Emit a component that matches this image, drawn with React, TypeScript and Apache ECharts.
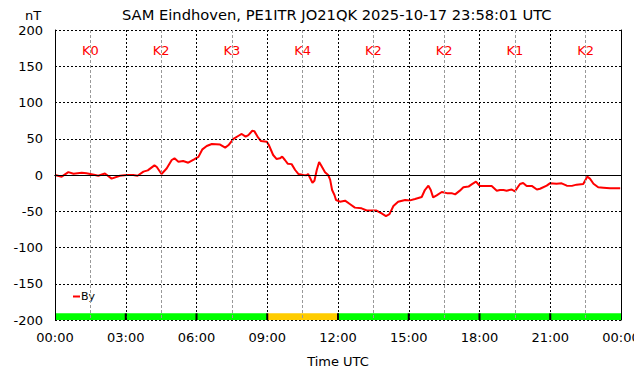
import React, { useEffect, useRef } from "react";
import * as echarts from "echarts";

const titleText = "SAM Eindhoven, PE1ITR JO21QK 2025-10-17 23:58:01 UTC";

const times = [
  "00:00", "00:17", "00:34", "00:47", "01:08", "01:20", "01:42", "01:50", "02:07", "02:24",
  "02:45", "03:02", "03:19", "03:30", "03:45", "03:56", "04:13", "04:19", "04:31", "04:44",
  "04:57", "05:04", "05:14", "05:26", "05:39", "05:54", "06:05", "06:15", "06:26", "06:39",
  "07:00", "07:13", "07:21", "07:34", "07:46", "07:55", "08:05", "08:12", "08:22", "08:27",
  "08:37", "08:44", "08:59", "09:04", "09:15", "09:24", "09:32", "09:38", "09:45", "09:52",
  "10:02", "10:11", "10:19", "10:32", "10:40", "10:44", "10:55", "11:00", "11:06", "11:12",
  "11:18", "11:27", "11:35", "11:40", "11:45", "11:51", "11:55", "12:05", "12:18", "12:30",
  "12:43", "13:00", "13:13", "13:26", "13:38", "13:51", "14:02", "14:11", "14:21", "14:33",
  "14:51", "15:03", "15:16", "15:33", "15:41", "15:50", "15:56", "16:02", "16:11", "16:24",
  "16:37", "16:49", "16:58", "17:10", "17:19", "17:32", "17:40", "17:51", "18:01", "18:18",
  "18:31", "18:44", "18:52", "19:01", "19:09", "19:22", "19:30", "19:43", "19:51", "20:00",
  "20:13", "20:26", "20:34", "20:51", "20:59", "21:16", "21:29", "21:42", "21:55", "22:07",
  "22:24", "22:34", "22:41", "22:50", "23:02", "23:15", "23:32", "23:58"
];

const byValues = [
  0, -2.3, 4, 1.8, 3, 2.5, 0, -1, 2, -5,
  -1, 0, 0, -1, 4.6, 6.4, 13.3, 11, 1.4, 9,
  20.7, 23, 18.4, 19.3, 17, 21.6, 25, 35.4, 40, 42.8,
  42, 37.7, 41, 49.7, 53.8, 56.6, 52.9, 55, 61, 60.5,
  51.5, 46.9, 46, 41.4, 27.6, 22, 23, 25.3, 20.7, 15.6,
  15, 6.9, 1.4, 0, -0.5, 1.4, -10.6, -8, 6.9, 18,
  12.4, 3.7, 0, -6.4, -20.7, -27.6, -34.5, -36.8, -35.4, -40,
  -45, -46, -49, -49, -49, -53, -56.6, -54, -42.8, -36.8,
  -34.5, -35, -33, -30.3, -20.7, -14.7, -20.7, -30.8, -28, -23.4,
  -25, -25, -26.7, -21.6, -17, -16, -12.9, -9.2, -15.2, -15.2,
  -15.2, -21.6, -20.7, -20.7, -21.6, -20, -22.5, -12.4, -11, -15.2,
  -15, -20, -19, -14.7, -11.5, -12, -11.5, -14.7, -15, -13.3,
  -12.4, -2.3, -5, -12, -17, -17.5, -18.4, -18.4
];

const kIndex = [0, 2, 3, 4, 2, 2, 1, 2];

const tickHours = [0, 3, 6, 9, 12, 15, 18, 21, 24];
const tickLabels = ["00:00", "03:00", "06:00", "09:00", "12:00", "15:00", "18:00", "21:00", "00:00"];

const FONT = "DejaVu Sans";

function toHours(t: string): number {
  const [h, m] = t.split(":").map(Number);
  return h + m / 60;
}

export default function App() {
  const ref = useRef<HTMLDivElement>(null);

  useEffect(() => {
    if (!ref.current) return;
    const chart = echarts.init(ref.current, null, { renderer: "svg" });

    const lineData = times.map((t, i) => [toHours(t), byValues[i]]);
    const kData = kIndex.map((k, i) => [i * 3, i * 3 + 3, k]);
    const tickData = tickHours.map((h, i) => [h, i]);

    const option: any = {
      animation: false,
      backgroundColor: "#ffffff",
      textStyle: { fontFamily: FONT },
      title: {
        text: titleText,
        left: 117,
        top: 2,
        textStyle: { fontFamily: FONT, fontSize: 14.7, fontWeight: "normal", color: "#000" },
      },
      legend: {
        left: 68,
        top: 286,
        icon: "rect",
        itemWidth: 7,
        itemHeight: 2,
        itemGap: 0,
        textStyle: { fontFamily: FONT, fontSize: 11, color: "#000", padding: [0, 0, 0, -4] },
        data: ["By"],
      },
      graphic: [
        {
          type: "text",
          left: 25,
          top: 9,
          style: { text: "nT", font: `13px "${FONT}"`, fill: "#000" },
        },
      ],
      grid: { left: 55, right: 21, top: 30, bottom: 56, containLabel: false, outerBoundsMode: "none" },
      xAxis: [
        {
          type: "value",
          min: 0,
          max: 24,
          interval: 3,
          z: 10,
          name: "Time UTC",
          nameLocation: "middle",
          nameGap: 35,
          nameTextStyle: { fontFamily: FONT, fontSize: 13, color: "#000" },
          axisLine: { show: true, lineStyle: { color: "#000", width: 1, type: [2, 2] } },
          axisTick: { show: false },
          axisLabel: { show: false },
          splitLine: { show: true, lineStyle: { color: "#000", width: 1, type: [2, 2] } },
          minorTick: { show: false, splitNumber: 2 },
          minorSplitLine: { show: true, lineStyle: { color: "#999", width: 1, type: [3, 2] } },
        },
        {
          type: "value",
          position: "top",
          min: 0,
          max: 24,
          interval: 3,
          z: 10,
          axisLine: { show: true, lineStyle: { color: "#000", width: 1 } },
          axisTick: { show: false },
          axisLabel: { show: false },
          splitLine: { show: false },
        },
      ],
      yAxis: [
        {
          type: "value",
          min: -200,
          max: 200,
          interval: 50,
          z: 10,
          axisLine: { show: true, lineStyle: { color: "#000", width: 1 } },
          axisTick: { show: false },
          axisLabel: { margin: 12, fontFamily: FONT, fontSize: 13, color: "#000" },
          splitLine: { show: true, lineStyle: { color: "#000", width: 1, type: [2, 2] } },
        },
        {
          type: "value",
          position: "right",
          min: -200,
          max: 200,
          interval: 50,
          z: 10,
          axisLine: { show: true, onZero: false, lineStyle: { color: "#000", width: 1 } },
          axisTick: { show: false },
          axisLabel: { show: false },
          splitLine: { show: false },
        },
      ],
      series: [
        {
          type: "custom",
          name: "status",
          xAxisIndex: 0,
          yAxisIndex: 0,
          silent: true,
          z: 3,
          data: kData,
          renderItem: (params: any, api: any) => {
            const s = api.value(0);
            const e = api.value(1);
            const k = api.value(2);
            const p0 = api.coord([s, -200]);
            const p1 = api.coord([e, -190.8]);
            const children: any[] = [
              {
                type: "rect",
                shape: { x: p0[0], y: p1[1], width: p1[0] - p0[0], height: p0[1] - p1[1] },
                style: { fill: k >= 4 ? "#ffcc00" : "#00ff00" },
              },
            ];
            if (s > 0) {
              children.push({
                type: "line",
                shape: { x1: p0[0], y1: p1[1], x2: p0[0], y2: p0[1] },
                style: { stroke: "#000", lineWidth: 2 },
              });
            }
            return { type: "group", children };
          },
        },
        {
          type: "custom",
          name: "K",
          xAxisIndex: 0,
          yAxisIndex: 0,
          silent: true,
          z: 4,
          data: kData,
          renderItem: (params: any, api: any) => {
            const c = api.coord([(api.value(0) + api.value(1)) / 2, 172]);
            return {
              type: "text",
              x: c[0],
              y: c[1],
              style: {
                text: "K" + api.value(2),
                fill: "#ff0000",
                font: `13px "${FONT}"`,
                align: "center",
                verticalAlign: "middle",
              },
            };
          },
        },
        {
          type: "custom",
          name: "xTicks",
          xAxisIndex: 0,
          yAxisIndex: 0,
          silent: true,
          clip: false,
          z: 4,
          data: tickData,
          renderItem: (params: any, api: any) => {
            const c = api.coord([api.value(0), -200]);
            return {
              type: "text",
              x: c[0],
              y: c[1] + 17,
              style: {
                text: tickLabels[api.value(1)],
                fill: "#000",
                font: `13px "${FONT}"`,
                align: "center",
                verticalAlign: "middle",
              },
            };
          },
        },
        {
          type: "line",
          name: "By",
          xAxisIndex: 0,
          yAxisIndex: 0,
          data: lineData,
          showSymbol: false,
          symbol: "none",
          z: 5,
          itemStyle: { color: "#ff0000" },
          lineStyle: { color: "#ff0000", width: 2 },
        },
      ],
    };

    chart.setOption(option);
    return () => chart.dispose();
  }, []);

  return <div ref={ref} style={{ width: 642, height: 376, margin: -8 }} />;
}
